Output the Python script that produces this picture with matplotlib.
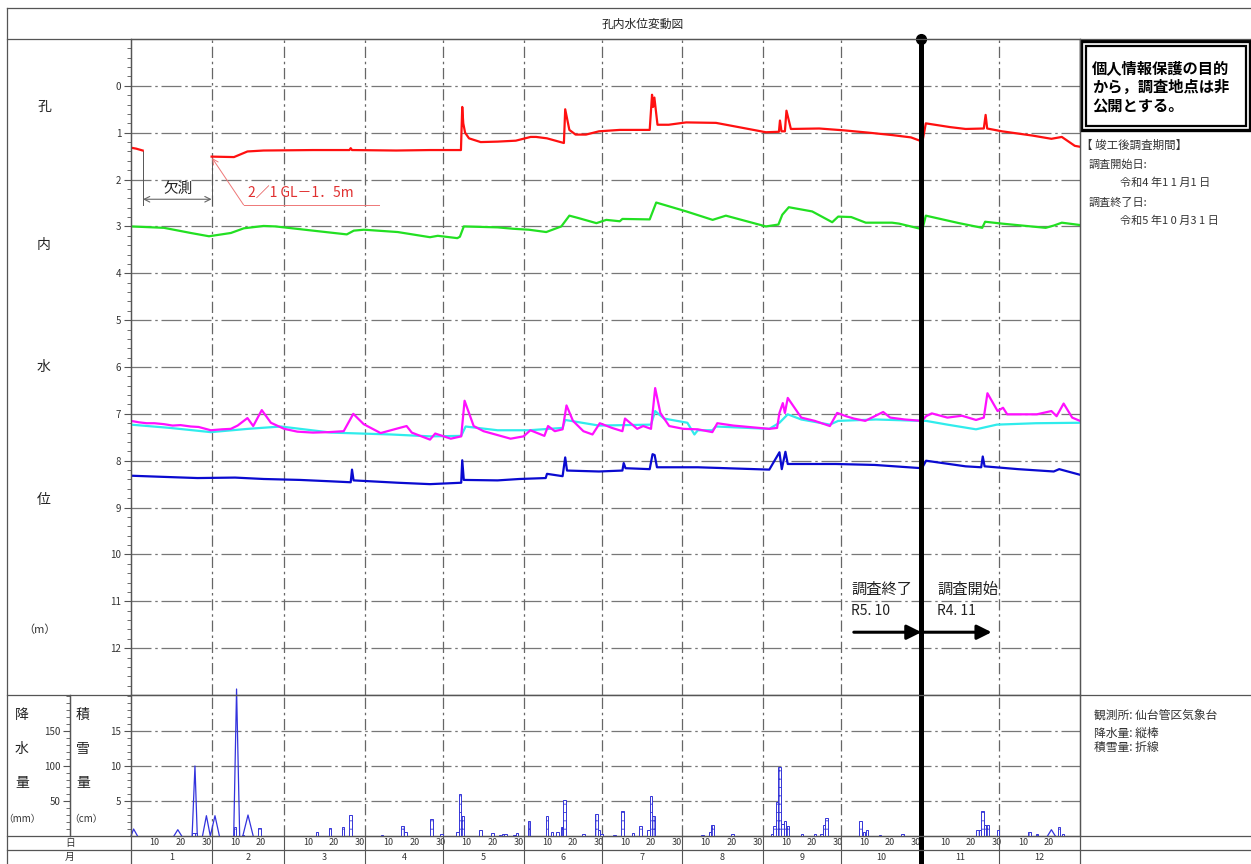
import numpy as np
import matplotlib
matplotlib.use('Agg')
import matplotlib.pyplot as plt
import matplotlib.transforms as mtransforms
from matplotlib.patches import Rectangle
from matplotlib.ticker import FixedLocator, MultipleLocator

plt.rcParams['font.family'] = ['Noto Sans CJK JP', 'DejaVu Sans']
plt.rcParams['hatch.linewidth'] = 0.6

nan = np.nan

# x = day of the chart year (1月1日 = 0), y = water level GL-(m)
month_names = ['1', '2', '3', '4', '5', '6', '7', '8', '9', '10', '11', '12']
month_days = [31, 28, 31, 30, 31, 30, 31, 31, 30, 31, 30, 31]
day_marks = [[10, 20, 30], [10, 20], [10, 20, 30], [10, 20, 30], [10, 20, 30], [10, 20, 30],
             [10, 20, 30], [10, 20, 30], [10, 20, 30], [10, 20, 30], [10, 20, 30], [10, 20]]
survey_split = 304  # R5.10 / R4.11

red_pts = [(0, 1.32), (2, 1.34), (4.5, 1.38), (4.6, nan),
           (31, 1.51), (39.6, 1.52), (44.8, 1.40), (51, 1.38), (70, 1.37), (84, 1.37), (84.5, 1.33),
           (85, 1.37), (102, 1.38), (115, 1.37), (126.9, 1.37), (127.4, 0.45), (127.8, 0.80),
           (128.5, 1.00), (130, 1.12), (134.5, 1.20), (141, 1.19), (148, 1.17), (153.7, 1.09),
           (155.8, 1.09), (160, 1.12), (166.5, 1.22), (167, 0.50), (168.6, 0.94), (171, 1.04),
           (175, 1.04), (180, 0.97), (188, 0.94), (199.5, 0.94), (200.4, 0.19), (200.8, 0.45),
           (201.3, 0.25), (202.5, 0.83), (206.8, 0.83), (213.5, 0.78), (225, 0.79), (232.7, 0.87),
           (244.2, 0.99), (249.2, 0.98), (249.6, 0.74), (250.2, 0.97), (251.5, 0.97), (252.1, 0.53),
           (253.8, 0.92), (264.7, 0.91), (274.3, 0.95), (283.9, 1.00), (292.7, 1.05), (300, 1.10),
           (304.4, 1.19), (305.7, 0.80), (315, 0.88), (321, 0.92), (328, 0.91), (328.7, 0.62),
           (329.3, 0.91), (335, 0.97), (346.6, 1.06), (354, 1.13), (358, 1.09), (363, 1.28), (365, 1.30)]

green_pts = [(0, 3.00), (12.7, 3.03), (23, 3.14), (30, 3.21), (38.4, 3.14), (43.4, 3.04), (51, 2.99),
             (55.6, 3.00), (70, 3.09), (83, 3.17), (85.7, 3.09), (89.6, 3.07), (102.6, 3.12),
             (115, 3.23), (118, 3.20), (125.5, 3.25), (126.5, 3.22), (128, 3.00), (141, 3.02),
             (147, 3.05), (153, 3.07), (159.7, 3.12), (165.5, 3.00), (168.6, 2.77), (172, 2.82),
             (179, 2.93), (182.8, 2.86), (188, 2.89), (189, 2.84), (199.5, 2.85), (202, 2.49),
             (213.6, 2.68), (223.7, 2.86), (228.8, 2.77), (244.2, 3.00), (249, 2.96), (250.5, 2.75),
             (253, 2.59), (262, 2.68), (269.7, 2.91), (272, 2.79), (277, 2.80), (282.6, 2.92),
             (292.7, 2.92), (295.4, 2.94), (304.4, 3.06), (305.7, 2.77), (318.5, 2.93), (327.4, 3.03),
             (328.5, 2.90), (335, 2.94), (351.8, 3.03), (355, 2.98), (358, 2.92), (365, 2.97)]

magenta_pts = [(0, 7.15), (3, 7.18), (6, 7.20), (9, 7.20), (12.7, 7.22), (16, 7.25), (19, 7.24), (23, 7.27),
               (26, 7.28), (30.7, 7.35), (35, 7.33), (38.4, 7.32), (41, 7.25), (44.8, 7.09), (47, 7.26),
               (50.3, 6.92), (53.8, 7.19), (58.9, 7.32), (64, 7.38), (70, 7.40), (76, 7.39), (81.8, 7.37),
               (85.5, 7.00), (89.5, 7.22), (96, 7.41), (102.6, 7.31), (106, 7.26), (108, 7.40), (115, 7.55),
               (117, 7.42), (123, 7.53), (127, 7.48), (128.3, 6.72), (131.8, 7.26), (135.6, 7.37),
               (146, 7.53), (151, 7.48), (153.6, 7.35), (159, 7.47), (160.4, 7.26), (163, 7.37), (166, 7.33),
               (167.5, 6.82), (170, 7.15), (174, 7.37), (177.5, 7.44), (180.3, 7.20), (185, 7.30),
               (189, 7.37), (190, 7.10), (194.7, 7.32), (197, 7.26), (200, 7.32), (201.6, 6.45),
               (203.6, 6.98), (207, 7.26), (212.5, 7.32), (218, 7.33), (223.6, 7.39), (225.5, 7.20),
               (231.7, 7.25), (245.5, 7.32), (248.5, 7.30), (249.4, 6.98), (250.7, 6.77), (251.5, 6.98),
               (252.6, 6.66), (257.8, 7.08), (263, 7.15), (268.8, 7.26), (271.6, 6.98), (275, 7.05),
               (278, 7.10), (282.4, 7.15), (289.3, 6.96), (292, 7.08), (297.6, 7.12), (304.2, 7.15),
               (305.8, 7.05), (308, 6.99), (314, 7.08), (319.6, 7.04), (325, 7.13), (328, 7.08),
               (329.4, 6.56), (333.3, 6.94), (335.4, 6.87), (337, 7.01), (348.4, 7.01), (354, 6.94),
               (356, 7.05), (358.7, 6.78), (362, 7.08), (365, 7.15)]

cyan_pts = [(0, 7.23), (15, 7.30), (30.7, 7.39), (45, 7.32), (57.6, 7.27), (77, 7.40), (100, 7.44),
            (115, 7.48), (127, 7.47), (128.7, 7.27), (141, 7.35), (153, 7.35), (166, 7.30), (167, 7.13),
            (180, 7.25), (200, 7.23), (201.6, 6.94), (205, 7.10), (214, 7.19), (215.5, 7.33),
            (216.7, 7.44), (218, 7.35), (223.6, 7.35), (225, 7.27), (245.5, 7.32), (249.4, 7.19),
            (252.6, 7.01), (257.8, 7.12), (268.8, 7.23), (272, 7.15), (286.5, 7.12), (304.2, 7.15),
            (305.8, 7.15), (314, 7.23), (325, 7.33), (333, 7.23), (348, 7.20), (365, 7.19)]

blue_pts = [(0, 8.32), (10, 8.34), (25.6, 8.37), (40, 8.36), (51, 8.39), (65, 8.41), (77, 8.44),
            (84.5, 8.46), (85, 8.19), (85.6, 8.42), (102.6, 8.47), (115, 8.50), (127, 8.47), (127.4, 7.99),
            (128, 8.41), (141, 8.42), (149.4, 8.39), (159.5, 8.37), (160, 8.28), (166, 8.33), (167, 7.93),
            (167.7, 8.21), (180, 8.23), (189, 8.21), (189.5, 8.05), (190.2, 8.16), (199.5, 8.18),
            (200.6, 7.86), (201.4, 7.88), (202.3, 8.14), (218, 8.14), (245.5, 8.19), (249.4, 7.82),
            (250.3, 8.18), (251.7, 7.81), (252.6, 8.07), (271, 8.07), (286, 8.09), (304.2, 8.16),
            (305.8, 8.00), (321, 8.12), (327, 8.14), (327.6, 7.91), (328.3, 8.12), (341.2, 8.18),
            (354.9, 8.23), (357, 8.18), (365, 8.30)]

# 降水量 (mm) 縦棒
rain_day = [24, 25, 40, 43, 49.5, 71.5, 76.5, 81.5, 84.5, 96.5, 104.5, 105.5, 115.5, 119.5,
            125.5, 126.5, 127.5, 134.5, 139, 142, 143, 144, 147.5, 148.5,
            153, 160, 162, 164, 165.8, 166.8, 174, 179, 180, 181,
            186, 189, 193, 196, 199, 200, 201, 219.8, 222.7, 223.7, 231.3,
            246.5, 247.5, 248.5, 249.5, 250.5, 251.5, 252.5, 258, 263, 265.5, 266.5, 267.5,
            280.5, 282, 283, 288, 296.7, 325.5, 326.5, 327.5, 328.5, 329.5, 333.5,
            345.5, 348.5, 357, 358.5]
rain_mm = [4, 4, 13, 2, 11, 6, 11, 13, 30, 2, 14, 5, 24, 3,
           6, 60, 28, 9, 4, 2, 3, 3, 2, 4,
           22, 28, 5, 5, 13, 51, 3, 31, 8, 3,
           2, 35, 4, 14, 9, 57, 28, 2, 5, 15, 3,
           3, 14, 49, 98, 17, 22, 14, 3, 3, 3, 15, 26,
           22, 5, 9, 1, 3, 8, 8, 35, 16, 16, 8,
           5, 3, 13, 3]

# 積雪量 (cm) 折線
snow_day = [0, 1, 2.5, nan, 16.5, 18, 19.5, nan, 23.5, 24.6, 25.5, nan, 27.5, 29, 30.5, 32.3, 34, nan,
            39.5, 40.6, 41.8, nan, 43, 45, 47, nan, 352.5, 354, 355.5]
snow_cm = [0, 1, 0, nan, 0, 0.9, 0, nan, 0, 10, 0, nan, 0, 2.9, 0, 2.9, 0, nan,
           0, 21, 0, nan, 0, 3, 0, nan, 0, 0.9, 0]

W, H = 1251, 864
fig = plt.figure(figsize=(W / 100, H / 100), dpi=100)


def box(x0, y0, x1, y1):
    return [x0 / W, 1 - y1 / H, (x1 - x0) / W, (y1 - y0) / H]


grid_c = '#666666'
frame_c = '#555555'
txt_c = '#333333'
month_start = np.concatenate([[0], np.cumsum(month_days)])

# ---- main water level panel ----
ax = fig.add_axes(box(131, 39, 1080, 695))
ax.set_xlim(0, 365)
ax.set_ylim(13, -1)
for s in ax.spines.values():
    s.set_color(frame_c)
    s.set_linewidth(0.9)
ax.yaxis.set_major_locator(FixedLocator(range(0, 13)))
ax.yaxis.set_minor_locator(MultipleLocator(0.2))
ax.tick_params(axis='y', which='major', length=5, width=0.8, colors=frame_c, labelsize=7,
               labelcolor=txt_c, pad=2)
ax.tick_params(axis='y', which='minor', length=3, width=0.6, colors=frame_c)
ax.tick_params(axis='x', length=0, labelbottom=False)
for lv in range(0, 13):
    ax.axhline(lv, color='#777777', lw=0.9, ls=(0, (16, 3, 2, 3)), zorder=1)
for m in month_start[1:-1]:
    ax.axvline(m, color=grid_c, lw=0.9, ls=(0, (9, 3, 2, 3)), zorder=1)

for pts, col in [(red_pts, '#ff1010'), (green_pts, '#22e022'), (cyan_pts, '#30ecec'),
                 (magenta_pts, '#ff10ff'), (blue_pts, '#0a0ad0')]:
    d, v = np.array(pts).T
    ax.plot(d, v, color=col, lw=1.6, zorder=3)

# 欠測
ax.annotate('', xy=(4.6, 2.42), xytext=(31, 2.42),
            arrowprops=dict(arrowstyle='<->', color='#666666', lw=0.8, shrinkA=0, shrinkB=0))
ax.plot([4.6, 4.6], [1.38, 2.55], color='#555555', lw=0.7)
ax.plot([31, 31], [1.52, 2.55], color='#555555', lw=0.7)
ax.text(18, 2.2, '欠測', ha='center', va='center', fontsize=10.5, color='#222222')
ax.plot([43.3, 95.5], [2.54, 2.54], color='#ee7777', lw=0.7)
ax.annotate('', xy=(31.2, 1.54), xytext=(43.3, 2.54),
            arrowprops=dict(arrowstyle='->', color='#ee7777', lw=0.7, shrinkA=0, shrinkB=0))
ax.text(45, 2.28, '2／1 GL－1．5m', ha='left', va='center', fontsize=10, color='#e03030')

# 調査終了 / 調査開始
ax.axvline(survey_split, color='k', lw=3.6, zorder=5)
ax.plot([survey_split], [-1], 'o', color='k', ms=7, clip_on=False, zorder=6)
ax.text(277, 10.75, '調査終了', fontsize=11, va='center', ha='left', color='#222222')
ax.text(277, 11.2, 'R5. 10', fontsize=10, va='center', ha='left', color='#222222')
ax.text(310, 10.75, '調査開始', fontsize=11, va='center', ha='left', color='#222222')
ax.text(310, 11.2, 'R4. 11', fontsize=10, va='center', ha='left', color='#222222')
for a, b in [(278, 304), (305, 331)]:
    ax.annotate('', xy=(b, 11.66), xytext=(a, 11.66),
                arrowprops=dict(arrowstyle='-|>', color='k', lw=2.2, mutation_scale=22,
                                shrinkA=0, shrinkB=0))

# ---- precipitation / snow panel ----
ax_p = fig.add_axes(box(131, 695, 1080, 836))
ax_p.set_xlim(0, 365)
ax_p.set_ylim(0, 141 / 7)
for s in ax_p.spines.values():
    s.set_color(frame_c)
    s.set_linewidth(0.9)
ax_p.yaxis.set_major_locator(FixedLocator([5, 10, 15]))
ax_p.yaxis.set_minor_locator(MultipleLocator(1))
ax_p.tick_params(axis='y', which='major', length=5, width=0.8, colors=frame_c, labelsize=7,
                 labelcolor=txt_c, pad=2)
ax_p.tick_params(axis='y', which='minor', length=3, width=0.6, colors=frame_c)
for lv in [5, 10, 15]:
    ax_p.axhline(lv, color='#777777', lw=0.9, ls=(0, (16, 3, 2, 3)), zorder=1)
for m in month_start[1:-1]:
    ax_p.axvline(m, color=grid_c, lw=0.9, ls=(0, (9, 3, 2, 3)), zorder=1)

tick_pos, tick_lab = [], []
for i, marks in enumerate(day_marks):
    for d in marks:
        tick_pos.append(month_start[i] + d - 1)
        tick_lab.append(str(d))
ax_p.set_xticks(tick_pos)
ax_p.set_xticklabels(tick_lab)
ax_p.tick_params(axis='x', length=0, labelsize=6.5, labelcolor=txt_c, pad=1.5)

trans = mtransforms.blended_transform_factory(ax_p.transData, ax_p.transAxes)
for i, name in enumerate(month_names):
    mid = (month_start[i] + month_start[i + 1]) / 2
    ax_p.text(mid, -21 / 141, name, transform=trans, ha='center', va='center',
              fontsize=6.5, color=txt_c)
for m in month_start[1:-1]:
    ax_p.axvline(m, ymin=-28 / 141, ymax=0, color=frame_c, lw=0.8, clip_on=False)
ax_p.axvline(survey_split, ymin=-28 / 141, ymax=1, color='k', lw=3.6, clip_on=False, zorder=5)

ax_p.plot(snow_day, snow_cm, color='#3333dd', lw=0.9, clip_on=False, zorder=3)

ax_mm = ax_p.twinx()
ax_mm.set_ylim(0, 201.4)
ax_mm.bar(rain_day, rain_mm, width=0.95, facecolor='white', edgecolor='#3535d8',
          hatch='++', linewidth=0.7, zorder=2)
ax_mm.yaxis.tick_left()
for k in ['right', 'top', 'bottom']:
    ax_mm.spines[k].set_visible(False)
ax_mm.spines['left'].set_position(('outward', 61 * 0.72))
ax_mm.spines['left'].set_color(frame_c)
ax_mm.spines['left'].set_linewidth(0.9)
ax_mm.yaxis.set_major_locator(FixedLocator([50, 100, 150]))
ax_mm.yaxis.set_minor_locator(MultipleLocator(10))
ax_mm.tick_params(axis='y', which='major', length=5, width=0.8, colors=frame_c, labelsize=7,
                  labelcolor=txt_c, pad=2)
ax_mm.tick_params(axis='y', which='minor', length=3, width=0.6, colors=frame_c)

# ---- frame and texts ----
ov = fig.add_axes([0, 0, 1, 1])
ov.set_xlim(0, W)
ov.set_ylim(H, 0)
ov.axis('off')
ov.patch.set_alpha(0)
for x0, y0, x1, y1 in [(7, 8, 1251, 8), (7, 39, 1251, 39), (7, 695, 1251, 695), (7, 836, 1251, 836),
                       (7, 850, 1251, 850), (7, 8, 7, 864), (70, 695, 70, 836), (131, 39, 131, 864),
                       (1080, 39, 1080, 864)]:
    ov.plot([x0, x1], [y0, y1], color=frame_c, lw=0.9)

ov.text(643, 24, '孔内水位変動図', ha='center', va='center', fontsize=8.5, color='#222222')
for ch, y in [('孔', 107), ('内', 245), ('水', 367), ('位', 500)]:
    ov.text(44, y, ch, ha='center', va='center', fontsize=10, color='#222222')
ov.text(40, 630, '（m）', ha='center', va='center', fontsize=8, color=txt_c)
for ch, y in [('降', 715), ('水', 749), ('量', 783)]:
    ov.text(22, y, ch, ha='center', va='center', fontsize=10, color='#222222')
for ch, y in [('積', 715), ('雪', 749), ('量', 783)]:
    ov.text(83, y, ch, ha='center', va='center', fontsize=10, color='#222222')
ov.text(22, 819, '（mm）', ha='center', va='center', fontsize=7, color=txt_c)
ov.text(86, 819, '（cm）', ha='center', va='center', fontsize=7, color=txt_c)
ov.text(70, 843, '日', ha='center', va='center', fontsize=7, color=txt_c)
ov.text(70, 857, '月', ha='center', va='center', fontsize=7, color=txt_c)

ov.add_patch(Rectangle((1081, 41), 169, 89, fill=False, lw=2.4, ec='k'))
ov.add_patch(Rectangle((1086, 46), 160, 80, fill=False, lw=1.6, ec='k'))
for line, y in [('個人情報保護の目的', 68), ('から，調査地点は非', 87), ('公開とする。', 106)]:
    ov.text(1092, y, line, ha='left', va='center', fontsize=11, fontweight='bold', color='k')

ov.text(1081, 145, '【 竣工後調査期間】', ha='left', va='center', fontsize=8.3, color=txt_c)
ov.text(1089, 165, '調査開始日:', ha='left', va='center', fontsize=8, color=txt_c)
ov.text(1120, 183, '令和4 年1 1 月1 日', ha='left', va='center', fontsize=8, color=txt_c)
ov.text(1089, 203, '調査終了日:', ha='left', va='center', fontsize=8, color=txt_c)
ov.text(1120, 221, '令和5 年1 0 月3 1 日', ha='left', va='center', fontsize=8, color=txt_c)

ov.text(1094, 715, '観測所: 仙台管区気象台', ha='left', va='center', fontsize=8.5, color=txt_c)
ov.text(1094, 733, '降水量: 縦棒', ha='left', va='center', fontsize=8.5, color=txt_c)
ov.text(1094, 747, '積雪量: 折線', ha='left', va='center', fontsize=8.5, color=txt_c)

fig.savefig('out.png', dpi=100)
